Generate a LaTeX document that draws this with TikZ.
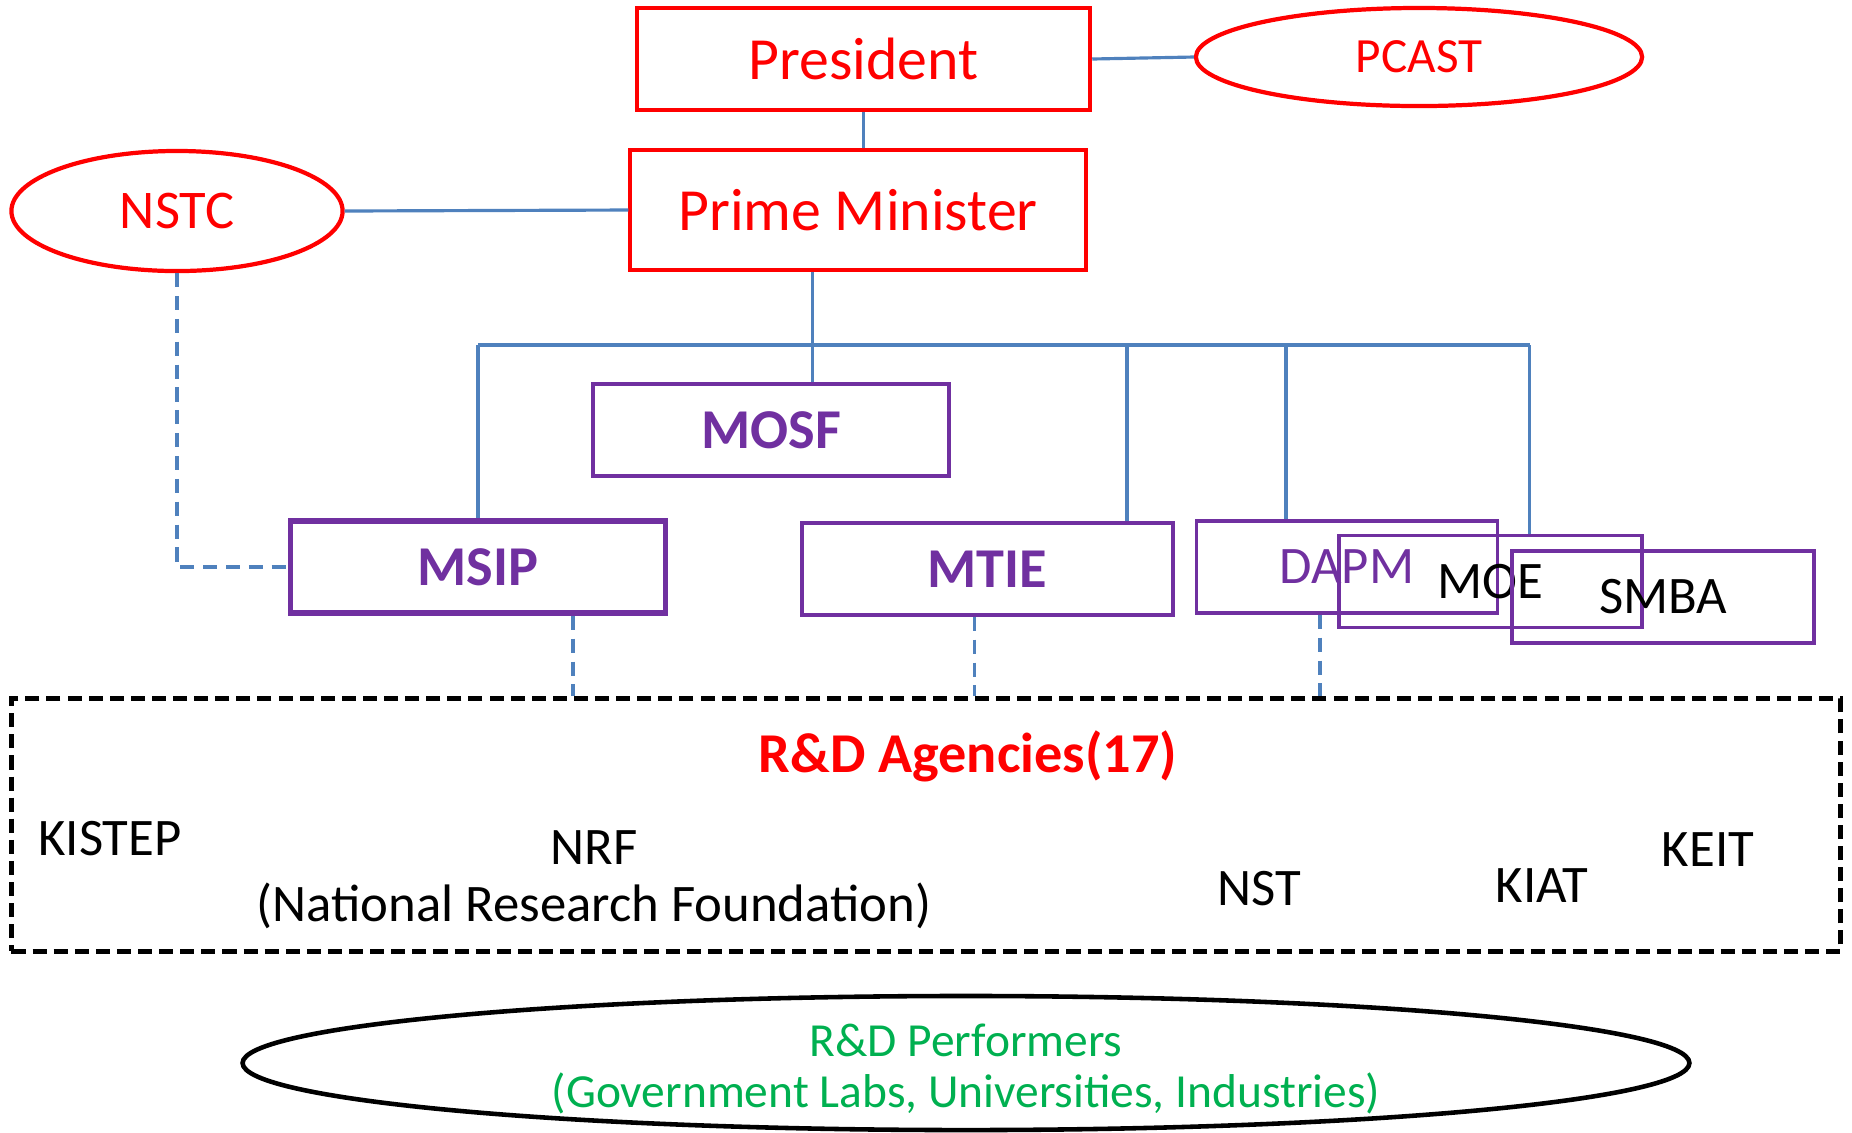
\documentclass[tikz,border=0pt]{standalone}
\usepackage{fontspec}
\setmainfont{Carlito}
\usetikzlibrary{shapes.geometric}
\definecolor{orgpurple}{RGB}{112,48,160}
\definecolor{linkblue}{RGB}{79,129,189}
\definecolor{perfgreen}{RGB}{0,176,80}

\begin{document}
\begin{tikzpicture}[x=0.01cm,y=-0.01cm,
	topbox/.style={draw=red,line width=1.2pt,text=red,inner sep=0pt,font=\fontsize{17}{20}\selectfont},
	topell/.style={ellipse,draw=red,line width=1.2pt,text=red,inner sep=0pt,font=\fontsize{14}{17}\selectfont},
	minbox/.style={draw=orgpurple,line width=1pt,inner sep=0pt,minimum height=0.92cm,font=\fontsize{15}{18}\selectfont},
	link/.style={linkblue,line width=0.9pt},
	dlink/.style={linkblue,line width=1.1pt,dash pattern=on 4pt off 2.5pt},
	agtext/.style={inner sep=0pt,font=\fontsize{15}{16.2}\selectfont,align=center}]
	\useasboundingbox (0,0) rectangle (1852,1132);
	% top of government
	\node[topbox,minimum width=4.53cm,minimum height=1.02cm] (pres) at (863.5,59) {President};
	\node[topell,minimum width=4.46cm,minimum height=0.98cm] (pcast) at (1419,57) {PCAST};
	\node[topbox,minimum width=4.55cm,minimum height=1.2cm] (pm) at (858,210) {Prime Minister};
	\node[topell,minimum width=3.31cm,minimum height=1.2cm,font=\fontsize{15.5}{18}\selectfont] (nstc) at (177,211) {NSTC};
	% ministries
	\node[minbox,minimum width=3.56cm,text=orgpurple,font=\fontsize{16}{19}\bfseries] (mosf) at (771,430) {MOSF};
	\node[minbox,line width=1.6pt,minimum width=3.75cm,text=orgpurple,font=\fontsize{16}{19}\bfseries] (msip) at (478,567) {MSIP};
	\node[minbox,minimum width=3.71cm,text=orgpurple,font=\fontsize{16}{19}\bfseries] (mtie) at (987.5,569) {MTIE};
	\node[minbox,minimum width=3.01cm,text=orgpurple] (dapm) at (1347,567) {DAPM};
	\node[minbox,minimum width=3.03cm] (moe) at (1490.5,581.5) {MOE};
	\node[minbox,minimum width=3.02cm] (smba) at (1663,597) {SMBA};
	% bus
	\coordinate (busl) at (478,345);
	\coordinate (busr) at (1529.5,345);
	\coordinate (jmosf) at (812.5,345);
	\coordinate (jmtie) at (1127,345);
	\coordinate (jdapm) at (1286,345);
	\draw[link] (pres.south) -- (pres.south |- pm.north);
	\draw[link] (pres.east) -- (pcast.west);
	\draw[link] (nstc.east) -- (pm.west);
	\draw[link] (busl) -- (busr);
	\draw[link] (pm.south -| jmosf) -- (jmosf |- mosf.north);
	\draw[link] (busl) -- (msip.north);
	\draw[link] (jmtie) -- (jmtie |- mtie.north);
	\draw[link] (jdapm) -- (jdapm |- dapm.north);
	\draw[link] (busr) -- (busr |- moe.north);
	% agencies
	\node[draw,line width=1.4pt,dash pattern=on 4pt off 2pt,minimum width=18.28cm,minimum height=2.52cm] (agency) at (926,825) {};
	\node[agtext,text=red,font=\fontsize{16}{19}\bfseries] (agtitle) at (968,756) {R\&D Agencies(17)};
	\node[agtext] (kistep) at (110,839) {KISTEP};
	\node[agtext] (nrf) at (594,880) {NRF\\(National Research Foundation)};
	\node[agtext] (nst) at (1259,889) {NST};
	\node[agtext] (kiat) at (1542,886) {KIAT};
	\node[agtext] (keit) at (1708,850) {KEIT};
	\coordinate (dmsip) at (573,0);
	\coordinate (dmtie) at (974.5,0);
	\coordinate (ddapm) at (1320,0);
	\draw[dlink] (nstc.south) |- (msip.west);
	\draw[dlink] (msip.south -| dmsip) -- (dmsip |- agency.north);
	\draw[dlink] (mtie.south -| dmtie) -- (dmtie |- agency.north);
	\draw[dlink] (dapm.south -| ddapm) -- (ddapm |- agency.north);
	% performers
	\node[ellipse,draw,line width=1.3pt,minimum width=14.46cm,minimum height=1.34cm] (perf) at (966,1063) {};
	\node[agtext,text=perfgreen,font=\fontsize{13.5}{14.5}\selectfont] (perftext) at ([yshift=-0.06cm]perf.center) {R\&D Performers\\(Government Labs, Universities, Industries)};
\end{tikzpicture}
\end{document}
